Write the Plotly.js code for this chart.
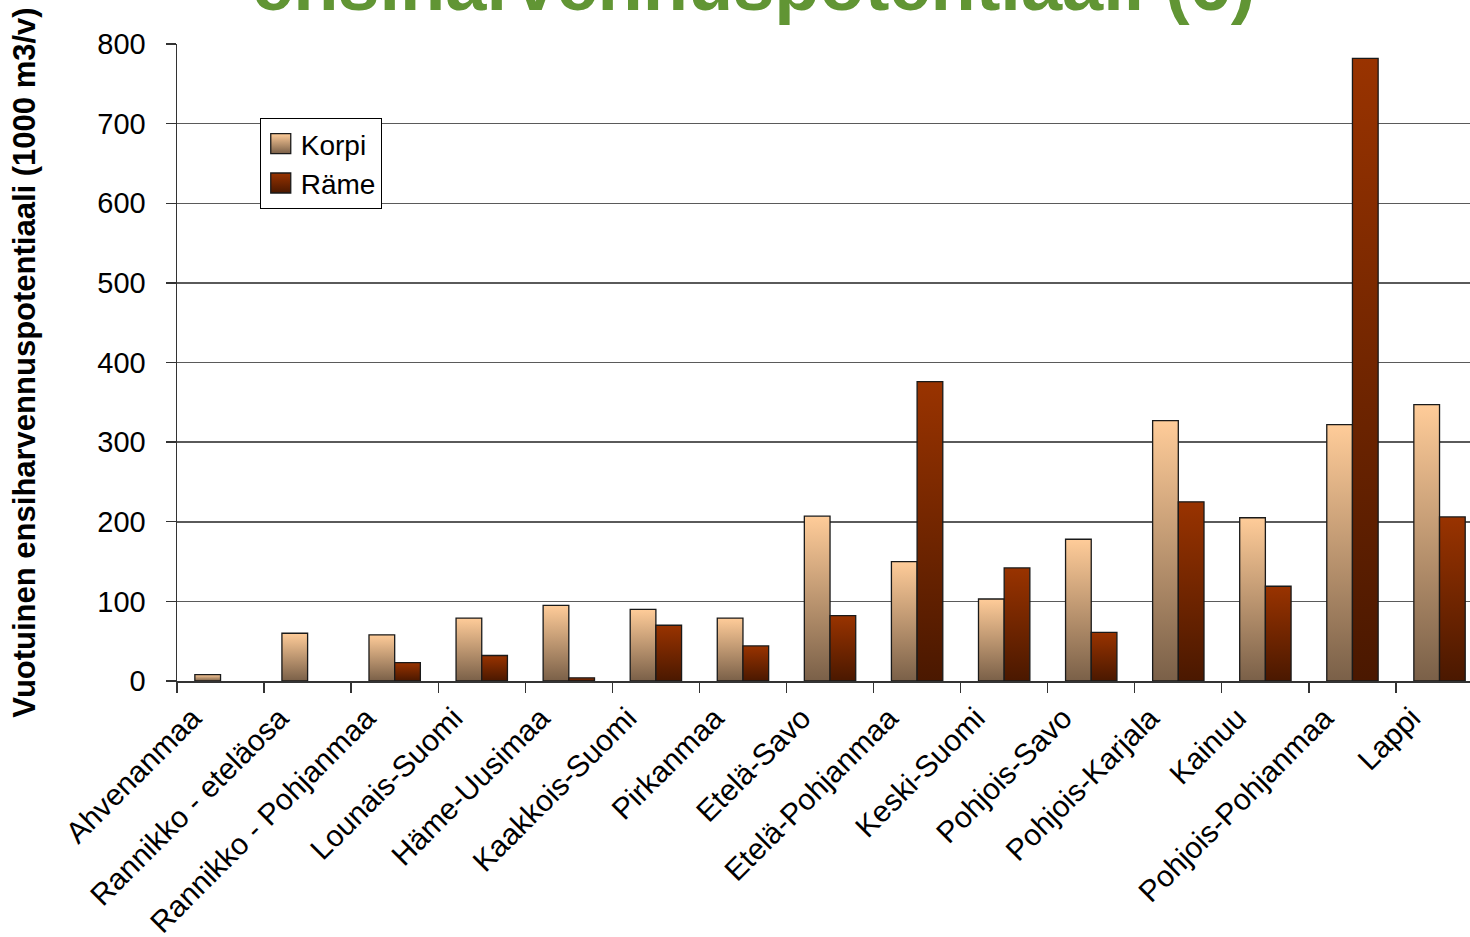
<!DOCTYPE html>
<html>
<head>
<meta charset="utf-8">
<script src="https://cdn.plot.ly/plotly-3.0.1.min.js"></script>
<style>
  html, body { margin: 0; padding: 0; background: #ffffff; }
  #chart { width: 1470px; height: 937px; }
</style>
</head>
<body>
<div id="chart"></div>
<script>
// ---- Data ----
const categories = [
  "Ahvenanmaa", "Rannikko - eteläosa", "Rannikko - Pohjanmaa", "Lounais-Suomi",
  "Häme-Uusimaa", "Kaakkois-Suomi", "Pirkanmaa", "Etelä-Savo", "Etelä-Pohjanmaa",
  "Keski-Suomi", "Pohjois-Savo", "Pohjois-Karjala", "Kainuu", "Pohjois-Pohjanmaa", "Lappi"
];
const korpi = [8, 60, 58, 79, 95, 90, 79, 207, 150, 103, 178, 327, 205, 322, 347];
const rame  = [null, null, 23, 32, 4, 70, 44, 82, 376, 142, 61, 225, 119, 782, 206];
const seriesNames = ["Korpi", "Räme"];
const yTickVals = [0, 100, 200, 300, 400, 500, 600, 700, 800];
const titleText = "ensiharvennuspotentiaali (6)";
const yTitleText = "Vuotuinen ensiharvennuspotentiaali (1000 m3/v)";

const FONT = "Liberation Sans, Arial, sans-serif";

const traces = [
  {
    type: "bar", name: seriesNames[0], x: categories, y: korpi,
    legendgroup: "a",
    marker: { color: "#D9AE82", line: { color: "#1a1a1a", width: 1.3 } }
  },
  {
    type: "bar", name: seriesNames[1], x: categories, y: rame,
    legendgroup: "b",
    marker: { color: "#7A2600", line: { color: "#1a1a1a", width: 1.3 } }
  }
];

const layout = {
  width: 1470, height: 937,
  paper_bgcolor: "#ffffff", plot_bgcolor: "#ffffff",
  margin: { l: 177, r: 0, t: 44, b: 256, pad: 0 },
  barmode: "group",
  bargap: 0.41,
  bargroupgap: 0,
  font: { family: FONT, size: 28, color: "#000" },
  showlegend: true,
  legend: {
    x: 0.064, y: 0.884, xanchor: "left", yanchor: "top",
    bgcolor: "#ffffff", bordercolor: "#000000", borderwidth: 1,
    font: { size: 28, family: FONT, color: "#000" },
    traceorder: "grouped", tracegroupgap: 0
  },
  xaxis: {
    type: "category",
    range: [-0.5, 14.35],
    tickangle: -45,
    ticks: "outside", ticklen: 10, tickcolor: "#333", tickwidth: 1.3,
    tickson: "boundaries",
    ticklabelshift: -28,
    ticklabelstandoff: 6,
    showline: true, linecolor: "#333", linewidth: 1.5,
    showgrid: false, zeroline: false,
    tickfont: { size: 30, family: FONT, color: "#000" },
    automargin: false
  },
  yaxis: {
    range: [0, 800],
    tickvals: yTickVals,
    ticks: "outside", ticklen: 10, tickcolor: "#333", tickwidth: 1.3,
    ticklabelstandoff: 14,
    showline: true, linecolor: "#333", linewidth: 1.5,
    showgrid: true, gridcolor: "#5a5a5a", gridwidth: 1.5,
    zeroline: false,
    tickfont: { size: 29, family: FONT, color: "#000" },
    title: {
      text: "<b>" + yTitleText + "</b>",
      font: { size: 31, family: FONT, color: "#000" },
      standoff: 52
    },
    automargin: false
  },
  annotations: [
    {
      text: "<b>" + titleText + "</b>",
      xref: "paper", yref: "paper", x: 0.446, y: 1.094,
      xanchor: "center", yanchor: "middle", showarrow: false,
      font: { size: 74, family: FONT, color: "#619534" }
    }
  ]
};

Plotly.newPlot("chart", traces, layout, { staticPlot: true, displayModeBar: false }).then(function (gd) {
  const NS = "http://www.w3.org/2000/svg";
  const defs = gd.querySelector("svg.main-svg defs");
  function addGrad(id, top, bottom) {
    const g = document.createElementNS(NS, "linearGradient");
    g.setAttribute("id", id);
    g.setAttribute("x1", "0"); g.setAttribute("y1", "0");
    g.setAttribute("x2", "0"); g.setAttribute("y2", "1");
    const s1 = document.createElementNS(NS, "stop");
    s1.setAttribute("offset", "0"); s1.setAttribute("stop-color", top);
    const s2 = document.createElementNS(NS, "stop");
    s2.setAttribute("offset", "1"); s2.setAttribute("stop-color", bottom);
    g.appendChild(s1); g.appendChild(s2);
    defs.appendChild(g);
  }
  addGrad("gradKorpi", "#FFCC99", "#7A6048");
  addGrad("gradRame", "#993300", "#4A1800");
  const gradIds = ["gradKorpi", "gradRame"];
  gd.querySelectorAll(".barlayer .trace").forEach(function (t, i) {
    t.querySelectorAll("path").forEach(function (p) {
      p.style.fill = "url(#" + gradIds[i] + ")";
    });
  });
  gd.querySelectorAll(".legend .traces").forEach(function (t, i) {
    t.querySelectorAll(".legendpoints path").forEach(function (p) {
      p.setAttribute("d", "M10,10H-10V-10H10Z");
      p.style.fill = "url(#" + gradIds[i] + ")";
      p.style.stroke = "#1a1a1a";
      p.style.strokeWidth = "1.3px";
    });
  });
});
</script>
</body>
</html>
